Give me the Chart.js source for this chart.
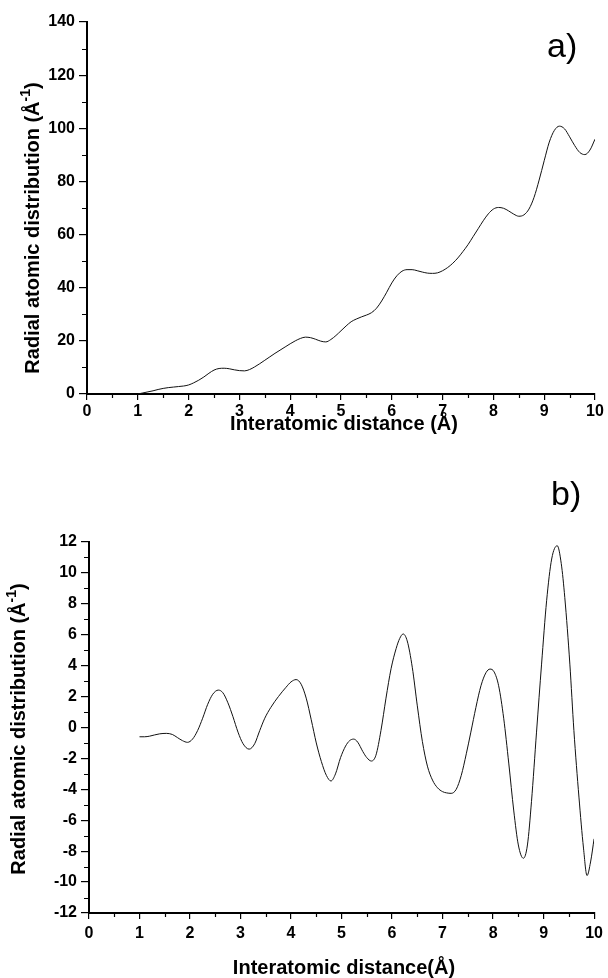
<!DOCTYPE html>
<html>
<head>
<meta charset="utf-8">
<script src="https://cdn.jsdelivr.net/npm/chart.js@4/dist/chart.umd.min.js"></script>
<style>
html,body{margin:0;padding:0;background:#fff;}
#wrap{position:relative;width:608px;height:978px;overflow:hidden;background:#fff;}
#c1{position:absolute;left:0;top:0;}
#c2{position:absolute;left:0;top:460px;}
</style>
</head>
<body>
<div id="wrap">
<canvas id="c1" width="608" height="460"></canvas>
<canvas id="c2" width="608" height="518"></canvas>
</div>
<script>
// ---------- DATA ----------
// a) radial atomic distribution
const xTop = [1.0,1.1,1.2,1.3,1.4,1.5,1.6,1.7,1.8,1.9,
  2.0,2.1,2.2,2.3,2.4,2.5,2.6,2.7,2.8,2.9,
  3.0,3.1,3.2,3.3,3.4,3.5,3.6,3.7,3.8,3.9,
  4.0,4.1,4.2,4.3,4.4,4.5,4.6,4.7,4.8,4.9,
  5.0,5.1,5.2,5.3,5.4,5.5,5.6,5.7,5.8,5.9,
  6.0,6.1,6.2,6.3,6.4,6.5,6.6,6.7,6.8,6.9,
  7.0,7.1,7.2,7.3,7.4,7.5,7.6,7.7,7.8,7.9,
  8.0,8.1,8.2,8.3,8.4,8.5,8.6,8.7,8.8,8.9,
  9.0,9.1,9.2,9.3,9.4,9.5,9.6,9.7,9.8,9.9,
  10.0];
const yTop = [0,0.4,0.8,1.2,1.7,2.1,2.4,2.6,2.8,3.0,
  3.4,4.2,5.2,6.4,7.8,9.0,9.6,9.7,9.5,9.1,
  8.8,8.7,9.2,10.2,11.4,12.7,14.0,15.3,16.5,17.7,
  18.9,20.0,20.9,21.4,21.2,20.6,19.9,19.6,20.5,22.0,
  23.8,25.6,27.2,28.2,29.0,29.7,30.6,32.3,35.0,38.3,
  41.8,44.5,46.2,46.8,46.8,46.4,45.9,45.5,45.4,45.6,
  46.4,47.6,49.2,51.2,53.6,56.2,59.2,62.2,65.2,67.8,
  69.6,70.2,69.9,68.9,67.7,66.9,67.4,69.6,74.0,80.5,
  87.8,94.8,99.2,100.8,99.8,96.8,93.5,90.9,90.1,91.8,
  95.9];

// b) difference / reduced distribution
const xBot = [1.00,1.10,1.20,1.30,1.40,1.53,1.65,1.75,1.85,1.95,
  2.05,2.15,2.25,2.35,2.45,2.56,2.65,2.75,2.85,2.95,
  3.05,3.17,3.28,3.38,3.48,3.60,3.75,3.90,4.00,4.10,
  4.20,4.30,4.40,4.50,4.60,4.70,4.79,4.88,4.98,5.08,
  5.16,5.24,5.32,5.42,5.50,5.59,5.68,5.78,5.88,5.98,
  6.08,6.15,6.22,6.30,6.40,6.50,6.60,6.70,6.80,6.90,
  7.00,7.08,7.17,7.27,7.37,7.47,7.56,7.66,7.76,7.86,
  7.94,8.02,8.11,8.21,8.31,8.41,8.50,8.60,8.68,8.76,
  8.86,8.96,9.06,9.16,9.27,9.35,9.42,9.52,9.60,9.70,
  9.79,9.86,9.93,10.00];
const yBot = [-0.60,-0.60,-0.56,-0.48,-0.41,-0.38,-0.45,-0.65,-0.85,-0.96,
  -0.75,-0.20,0.60,1.50,2.15,2.42,2.25,1.60,0.70,-0.30,
  -1.05,-1.40,-1.05,-0.20,0.60,1.30,2.00,2.60,2.95,3.10,
  2.80,1.90,0.50,-1.00,-2.20,-3.10,-3.46,-3.00,-1.95,-1.20,
  -0.85,-0.75,-0.95,-1.55,-1.95,-2.17,-1.80,-0.20,1.90,3.80,
  5.10,5.75,6.05,5.60,3.90,1.40,-0.90,-2.50,-3.40,-3.90,
  -4.15,-4.23,-4.26,-4.00,-3.10,-1.70,-0.30,1.30,2.70,3.55,
  3.78,3.60,2.70,0.60,-2.30,-5.40,-7.60,-8.46,-7.60,-4.80,
  -0.30,4.10,8.20,10.90,11.76,10.60,8.40,4.10,-0.20,-4.50,
  -7.80,-9.58,-8.70,-7.20];

// axes / ticks
const xMin = 0, xMax = 10, xStep = 1, xMinorStep = 0.5;
const yTopMin = 0, yTopMax = 140, yTopStep = 20, yTopMinorStep = 10;
const yBotMin = -12, yBotMax = 12, yBotStep = 2, yBotMinorStep = 1;

// texts
const yTitleMain = 'Radial atomic distribution (Å';
const yTitleSup = '-1';
const yTitleEnd = ')';
const xTitleTop = 'Interatomic distance (Å)';
const xTitleBot = 'Interatomic distance(Å)';
const panelA = 'a)';
const panelB = 'b)';

// ---------- DRAWING ----------
const FONT = '"Liberation Sans", Arial, Helvetica, sans-serif';

function minorTicks(scale, min, max, major, minor, len, horizontal, ctx, chart) {
  ctx.save();
  ctx.strokeStyle = '#000';
  ctx.lineWidth = 1.2;
  ctx.beginPath();
  const n = Math.round((max - min) / minor);
  for (let i = 0; i <= n; i++) {
    const v = min + i * minor;
    if (Math.abs(v / major - Math.round(v / major)) < 1e-6) continue;
    const p = Math.round(scale.getPixelForValue(v)) + 0.5;
    if (horizontal) {
      const b = chart.chartArea.bottom;
      ctx.moveTo(p, b); ctx.lineTo(p, b + len);
    } else {
      const l = chart.chartArea.left;
      ctx.moveTo(l, p); ctx.lineTo(l - len, p);
    }
  }
  ctx.stroke();
  ctx.restore();
}

function drawYTitle(ctx, baseX, cy) {
  const f1 = 'bold 20px ' + FONT, f2 = 'bold 14px ' + FONT;
  ctx.save();
  ctx.fillStyle = '#000';
  ctx.font = f1;
  const w1 = ctx.measureText(yTitleMain).width;
  const w3 = ctx.measureText(yTitleEnd).width;
  ctx.font = f2;
  const w2 = ctx.measureText(yTitleSup).width;
  const total = w1 + w2 + w3;
  ctx.translate(baseX, cy);
  ctx.rotate(-Math.PI / 2);
  ctx.textAlign = 'left';
  ctx.textBaseline = 'alphabetic';
  let x = -total / 2;
  ctx.font = f1; ctx.fillText(yTitleMain, x, 0); x += w1;
  ctx.font = f2; ctx.fillText(yTitleSup, x, -9); x += w2;
  ctx.font = f1; ctx.fillText(yTitleEnd, x, 0);
  ctx.restore();
}

function makeChart(id, xs, ys, o) {
  const pts = xs.map((x, i) => ({x: x, y: ys[i]}));
  const deco = {
    id: 'deco' + id,
    afterDraw(chart) {
      const ctx = chart.ctx;
      minorTicks(chart.scales.x, xMin, xMax, xStep, xMinorStep, 4, true, ctx, chart);
      minorTicks(chart.scales.y, o.yMin, o.yMax, o.yStep, o.yMinor, 5, false, ctx, chart);
      drawYTitle(ctx, o.yTitleX, o.yTitleCY);
      ctx.save();
      ctx.fillStyle = '#000';
      ctx.font = 'bold 20px ' + FONT;
      ctx.textAlign = 'center';
      ctx.textBaseline = 'alphabetic';
      ctx.fillText(o.xTitle, o.xTitleCX, o.xTitleY);
      ctx.font = '34px ' + FONT;
      ctx.textAlign = 'left';
      ctx.fillText(o.panel, o.panelX, o.panelY);
      ctx.restore();
    }
  };
  return new Chart(document.getElementById(id), {
    type: 'line',
    data: {
      datasets: [{
        data: pts,
        borderColor: '#111',
        borderWidth: 1,
        pointRadius: 0,
        fill: false,
        cubicInterpolationMode: 'monotone'
      }]
    },
    options: {
      responsive: false,
      animation: false,
      events: [],
      layout: {padding: {top: o.padTop, right: o.padRight, left: 0, bottom: 0}},
      plugins: {legend: {display: false}, tooltip: {enabled: false}, title: {display: false}},
      scales: {
        x: {
          type: 'linear', min: xMin, max: xMax,
          afterFit: s => { s.height = o.xHeight; },
          ticks: {stepSize: xStep, color: '#000', font: {family: FONT, size: 16, weight: 'bold'}, padding: o.xPad, maxRotation: 0, autoSkip: false},
          grid: {drawOnChartArea: false, drawTicks: true, tickLength: 6, color: '#000', lineWidth: 1.2},
          border: {color: '#000', width: 2}
        },
        y: {
          type: 'linear', min: o.yMin, max: o.yMax,
          afterFit: s => { s.width = o.yWidth; },
          ticks: {stepSize: o.yStep, color: '#000', font: {family: FONT, size: 16, weight: 'bold'}, padding: 4, autoSkip: false},
          grid: {drawOnChartArea: false, drawTicks: true, tickLength: 8, color: '#000', lineWidth: 1.2},
          border: {color: '#000', width: 2}
        }
      }
    },
    plugins: [deco]
  });
}

makeChart('c1', xTop, yTop, {
  yMin: yTopMin, yMax: yTopMax, yStep: yTopStep, yMinor: yTopMinorStep,
  padTop: 22, padRight: 13, xHeight: 66, yWidth: 87, xPad: 2,
  yTitleX: 39, yTitleCY: 228,
  xTitle: xTitleTop, xTitleCX: 344, xTitleY: 430,
  panel: panelA, panelX: 547, panelY: 57
});
makeChart('c2', xBot, yBot, {
  yMin: yBotMin, yMax: yBotMax, yStep: yBotStep, yMinor: yBotMinorStep,
  padTop: 82, padRight: 10, xHeight: 65, yWidth: 89, xPad: 5,
  yTitleX: 25, yTitleCY: 269,
  xTitle: xTitleBot, xTitleCX: 344, xTitleY: 514,
  panel: panelB, panelX: 551, panelY: 45
});
</script>
</body>
</html>
